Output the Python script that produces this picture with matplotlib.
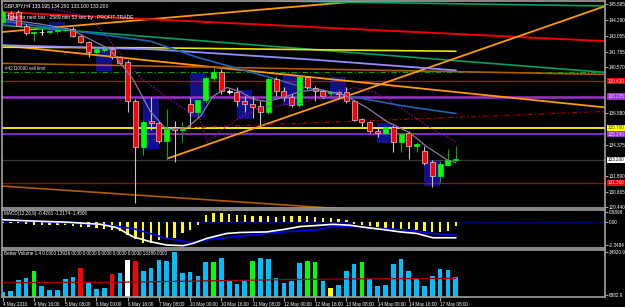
import matplotlib
matplotlib.use("Agg")
import matplotlib.pyplot as plt
import numpy as np
from matplotlib.patches import Rectangle

plt.rcParams["font.family"] = ["Liberation Sans", "DejaVu Sans"]

# GBPJPY H4, 4 May 2010 00:00 .. 17 May 2010 16:00
opens = [144.15, 144.90, 144.95, 143.83, 143.30, 143.35, 143.35, 143.43, 143.50, 143.59,
         143.03, 142.55, 141.75, 141.90, 141.99, 141.35, 140.95, 137.90, 134.24, 136.30,
         136.16, 134.72, 135.70, 135.60, 137.60, 136.96, 137.92, 139.67, 140.15, 138.60,
         138.55, 137.90, 137.60, 137.44, 136.96, 139.60, 138.63, 138.23, 137.52, 139.75,
         138.87, 138.63, 138.50, 138.55, 138.55, 137.84, 136.48, 136.24, 135.52, 135.36,
         135.84, 134.64, 135.36, 134.32, 133.92, 133.04, 131.92, 132.80, 133.195]
highs = [145.10, 145.00, 145.10, 143.99, 143.40, 143.60, 143.50, 143.60, 143.70, 143.75,
         143.10, 142.65, 142.10, 142.10, 142.10, 141.45, 141.10, 138.00, 136.40, 138.20,
         136.30, 137.20, 136.30, 136.20, 138.15, 137.20, 139.90, 140.55, 140.40, 138.80,
         138.95, 138.25, 138.25, 137.84, 139.75, 139.75, 139.00, 138.40, 139.90, 139.90,
         139.03, 138.80, 138.70, 138.65, 138.95, 137.95, 136.55, 136.30, 135.80, 135.90,
         135.95, 135.30, 135.50, 134.64, 134.32, 133.20, 133.10, 134.08, 134.291]
lows = [144.05, 144.30, 143.80, 143.10, 142.65, 143.10, 143.20, 143.30, 143.40, 142.95,
        142.45, 141.35, 141.60, 141.80, 141.25, 140.80, 137.00, 129.76, 133.60, 135.60,
        134.50, 133.30, 133.00, 134.60, 135.84, 136.50, 137.70, 139.50, 138.40, 138.40,
        137.50, 137.00, 136.50, 136.00, 136.80, 138.24, 137.90, 137.40, 137.40, 138.80,
        137.84, 138.15, 138.30, 138.20, 137.68, 136.30, 135.75, 135.36, 135.00, 135.20,
        133.84, 133.84, 133.28, 133.84, 132.80, 131.04, 131.44, 132.80, 133.100]
closes = [144.95, 144.40, 143.83, 143.27, 143.35, 143.35, 143.43, 143.50, 143.55, 143.03,
          142.55, 141.75, 141.99, 141.99, 141.35, 140.87, 137.84, 134.24, 136.24, 136.16,
          134.72, 135.76, 135.58, 135.65, 136.96, 137.92, 139.67, 140.15, 138.63, 138.60,
          137.84, 137.60, 137.36, 136.96, 139.60, 138.63, 138.23, 137.52, 139.75, 138.95,
          138.63, 138.31, 138.55, 138.40, 137.90, 136.40, 136.24, 135.52, 135.36, 135.84,
          134.64, 135.28, 134.32, 134.48, 132.96, 131.92, 132.88, 133.20, 133.200]

# Asian-session boxes (first bar of the day, high, low)
box_start = [0, 6, 12, 18, 24, 30, 36, 42, 48, 54]
box_top = [144.95, 144.15, 141.99, 138.23, 140.07, 138.71, 140.07, 139.75, 136.16, 133.20]
box_bottom = [143.83, 143.43, 140.23, 134.08, 136.64, 136.48, 137.52, 137.99, 134.56, 131.12]

# moving averages (bar index, price)
ma_yellow_x = [0, 20, 40, 58]
ma_yellow = [142.15, 142.10, 141.95, 141.83]
ma_lav_x = [0, 19, 40, 58]
ma_lav = [142.31, 141.99, 141.15, 140.31]
ma_blue_x = [0, 9.3, 18.9, 24.9, 34.2, 38.1, 41.9, 50.9, 58]
ma_blue = [144.23, 143.43, 142.63, 141.35, 139.75, 139.03, 138.55, 137.52, 136.88]
ma_dot_x = [3.5, 11.2, 17.6, 21.4, 25.3, 26.2, 28.1, 30.0, 32.9, 38.1, 43.2, 45.1, 47.7, 50.9, 54.7, 58]
ma_dot = [145.58, 144.55, 139.75, 138.00, 136.40, 134.56, 135.60, 136.40, 137.36, 137.68,
          138.63, 138.95, 138.55, 137.36, 135.76, 134.64]
ma_fast_x = [0, 4.8, 8.6, 13.7, 16.7, 18.9, 21.0, 23.6, 25.3, 26.9, 28.7, 30.4, 32.1, 33.8,
             35.9, 38.1, 40.6, 43.6, 46.6, 49.2, 52.1, 54.3, 56.9, 58]
ma_fast = [144.39, 143.99, 143.59, 141.99, 139.59, 137.04, 135.60, 135.76, 136.64, 138.23,
           138.95, 138.63, 138.00, 137.84, 138.15, 138.63, 138.79, 138.39, 137.36, 136.24,
           135.36, 134.24, 133.20, 132.96]

# trend lines: (x0, x1), (p0, p1)
trend_lines = {
    "orange_top": ([-0.3, 77.2], [143.35, 147.50]),
    "red_top": ([-0.3, 77.2], [144.95, 142.63]),
    "green_mid": ([-0.3, 77.2], [143.91, 140.15]),
    "green_top": ([34.0, 77.2], [145.83, 145.43]),
    "orange_mid": ([-0.3, 77.2], [142.31, 137.36]),
    "brown_mid": ([-0.3, 77.2], [140.87, 139.99]),
    "brown_low": ([-0.3, 77.2], [131.12, 127.90]),
    "orange_up": ([21.0, 77.2], [133.28, 145.43]),
    "red_dash": ([24.0, 77.2], [135.76, 137.04]),
}
line_style = {
    "orange_top": dict(color="#ff9900", lw=1.3),
    "red_top": dict(color="#ee0000", lw=1.4),
    "green_mid": dict(color="#00a060", lw=1.2),
    "green_top": dict(color="#00a060", lw=1.2),
    "orange_mid": dict(color="#ff9900", lw=1.3),
    "brown_mid": dict(color="#b35a00", lw=1.2),
    "brown_low": dict(color="#b35a00", lw=1.2),
    "orange_up": dict(color="#ff9900", lw=1.3),
    "red_dash": dict(color="#a00000", lw=0.9, ls=(0, (4, 2, 1, 2))),
}

# horizontal levels
levels = [140.21, 139.43, 138.23, 135.76, 135.24, 133.20, 131.36]
level_style = [dict(color="#00a000", lw=0.8, ls=(0, (5, 2, 1, 2))),
               dict(color="#dd0000", lw=0.9),
               dict(color="#9933cc", lw=1.8),
               dict(color="#ffff00", lw=1.3),
               dict(color="#9933cc", lw=1.2),
               dict(color="#383838", lw=0.9),
               dict(color="#b00000", lw=0.9)]
price_tags = [(139.43, "139.430", "#ee0000", "#ffd0d0"),
              (138.23, "138.235", "#9933cc", "#f0d0ff"),
              (135.76, "135.760", "#ffff00", "#505000"),
              (135.24, "135.240", "#9933cc", "#f0d0ff"),
              (133.20, "133.200", "#ffffff", "#000000"),
              (131.36, "131.360", "#ee0000", "#ffd0d0")]
price_ticks = [145.585, 144.290, 143.055, 141.755, 140.570, 136.880, 134.375, 131.890, 130.665, 129.440]

# MACD panel
macd_hist = [-0.05, -0.10, -0.10, -0.15, -0.27, -0.33, -0.27, -0.27, -0.33, -0.43,
             -0.53, -0.53, -0.60, -0.67, -0.77, -0.87, -1.27, -1.77, -2.10, -2.10,
             -1.87, -1.77, -1.60, -1.10, -0.77, -0.33, 0.73, 0.90, 0.90, 0.80,
             0.73, 0.73, 0.67, 0.67, 0.67, 0.57, 0.67, 0.67, 0.67, 0.67,
             0.57, 0.47, 0.40, 0.33, 0.23, -0.20, -0.33, -0.43, -0.53, -0.60,
             -0.67, -0.67, -0.67, -0.77, -0.87, -1.00, -1.00, -0.87, -0.43]
macd_x = [0, 3.9, 8.2, 12.5, 14.6, 16.7, 18.9, 21, 23.1, 24.4, 26.1, 28.7, 30.4, 33.8,
          35.9, 38.1, 40.6, 42.3, 44.5, 46.6, 48.7, 50.9, 53, 55.1, 58]
macd_main = [0.25, 0.11, 0.0, -0.22, -0.56, -1.5, -2.0, -2.34, -2.41, -2.17, -1.67, -1.16,
             -1.06, -1.0, -0.76, -0.45, -0.32, -0.22, -0.32, -0.56, -0.76, -1.0, -1.16,
             -1.6, -1.6]
sig_x = [0, 3.9, 8.2, 12.5, 16.7, 18.9, 21, 24, 27.4, 31.7, 35.9, 40.6, 42.3, 44.5, 46.6,
         50.9, 55.1, 58]
macd_signal = [0.18, 0.11, -0.09, -0.22, -0.66, -1.16, -1.67, -2.07, -1.67, -1.33, -1.0,
               -0.76, -0.42, -0.42, -0.56, -0.76, -1.16, -1.33]

# Better Volume
volume = [9070, 9730, 16740, 18270, 22650, 12800, 10170, 10170, 17400, 18930,
          24400, 14990, 10830, 11260, 20680, 21340, 29440, 28780, 22650, 24400,
          29880, 28780, 34920, 21340, 21990, 19150, 28560, 28350, 30750, 16080,
          13890, 16740, 29000, 30750, 30540, 17830, 14770, 16080, 27690, 29000,
          28130, 16080, 11260, 13450, 22210, 27030, 28130, 17610, 12800, 13230,
          27030, 30320, 22650, 18050, 12580, 19370, 23750, 23090, 18710]
vol_special = {4: "#00ff00", 27: "#00ff00", 32: "#00ff00", 39: "#00ff00", 40: "#00ff00",
               46: "#00ff00", 10: "#ff0000", 14: "#ff0000", 17: "#ff0000", 16: "#ffffff",
               42: "#ffff00"}
vol_ma_x = [0, 15, 25, 35, 45, 58]
vol_ma = [14900, 15200, 16000, 16800, 17400, 17700]

date_labels = ["4 May 2010", "4 May 16:00", "5 May 08:00", "6 May 00:00", "6 May 16:00",
               "7 May 08:00", "10 May 00:00", "10 May 16:00", "11 May 08:00", "12 May 00:00",
               "12 May 16:00", "13 May 08:00", "14 May 00:00", "14 May 16:00", "17 May 08:00"]

W, H = 625, 307
GRID = "#a0a0a0"
FS = 3.3
fig = plt.figure(figsize=(W / 100, H / 100), dpi=100, facecolor="black")


def panel(top, bottom):
    a = fig.add_axes([2 / W, 1 - bottom / H, 603 / W, (bottom - top) / H], facecolor="black")
    a.set_xlim(-0.09, 77.12)
    for sp in a.spines.values():
        sp.set_color(GRID)
        sp.set_linewidth(1.2)
    a.yaxis.tick_right()
    a.tick_params(axis="y", length=2, color=GRID, pad=1, labelsize=FS, labelcolor="white")
    a.tick_params(axis="x", length=0, labelbottom=False)
    return a


ax = panel(1, 208)
am = panel(209.5, 248)
av = panel(250, 297)

# ---- price panel ----
ax.set_ylim(129.365, 145.825)
for s, t, b in zip(box_start, box_top, box_bottom):
    ax.add_patch(Rectangle((s - 0.05, b), 2.0, t - b, fc="#10108c", ec="none", zorder=1))

for p, st in zip(levels, level_style):
    ax.axhline(p, zorder=2, **st)
for name, (xs, ps) in trend_lines.items():
    ax.plot(xs, ps, zorder=2, solid_capstyle="butt", **line_style[name])

ax.plot(ma_yellow_x, ma_yellow, color="#e8e800", lw=1.2, zorder=2.5)
ax.plot(ma_lav_x, ma_lav, color="#9090ff", lw=1.3, zorder=2.5)
ax.plot(ma_blue_x, ma_blue, color="#1e64b4", lw=1.2, zorder=2.5)

x = np.arange(len(opens))
o, h, l, c = map(np.array, (opens, highs, lows, closes))
up = c > o
flat = c == o
wick = np.where(flat, "#ffffff", np.where(up, "#00b000", "#c8c8c8"))
face = np.where(flat, "#ffffff", np.where(up, "#00ff00", "#ff0000"))
edge = np.where(flat, "#ffffff", np.where(up, "#00ff00", "#d0d0d0"))
ax.vlines(x, l, h, colors=wick, lw=0.8, zorder=3)
ax.bar(x, np.maximum(np.abs(c - o), 0.04), bottom=np.minimum(o, c), width=0.64,
       color=face, edgecolor=edge, lw=0.5, zorder=3.5)

ax.plot(ma_dot_x, ma_dot, color="#b000d0", lw=0.9, ls=(0, (1, 1.5)), zorder=4)
ax.plot(ma_fast_x, ma_fast, color="#8878a8", lw=0.9, zorder=4)

ax.set_yticks(price_ticks)
ax.set_yticklabels([f"{t:.3f}" for t in price_ticks])
ytr = ax.get_yaxis_transform()
for p, txt, fc, tc in price_tags:
    ax.text(1.004, p, txt, transform=ytr, fontsize=FS, color=tc, va="center", ha="left",
            clip_on=False, zorder=6,
            bbox=dict(boxstyle="square,pad=0.12", fc=fc, ec="none"))
ax.text(0.3, 140.21 + 0.08, "#42110090 sell limit", fontsize=FS, color="#e0e0e0",
        va="bottom", ha="left", zorder=6)

fig.text(4 / W, 1 - 6 / H, "GBPJPY,H4 133.195 134.291 133.100 133.200",
         fontsize=FS + 0.3, color="white", va="center", ha="left")
fig.text(7 / W, 1 - 17 / H, "Time for next bar : 2589 min 53 sec by : PROFIT-TRADE",
         fontsize=FS + 0.3, color="white", va="center", ha="left")

# ---- MACD panel ----
am.set_ylim(-2.646, 1.293)
am.axhline(0, color="#0000ff", lw=0.7, ls=(0, (1, 1.5)), zorder=1)
am.bar(x, macd_hist, width=0.3, color="#ffff00", zorder=2)
am.plot(sig_x, macd_signal, color="#0000ff", lw=1.2, zorder=3)
am.plot(macd_x, macd_main, color="#ffffff", lw=1.2, zorder=3)
am.set_yticks([0.9898, 0.0, -2.3484])
am.set_yticklabels(["0.9898", "0.00", "-2.3484"])
fig.text(4 / W, 1 - 213.5 / H, "MACD(12,26,9) -0.4261 -1.2174 -1.4506",
         fontsize=FS, color="white", va="center", ha="left")

# ---- Better Volume panel ----
av.set_ylim(5579, 36223)
vcol = [vol_special.get(i, "#00bfff") for i in range(len(volume))]
av.bar(x, np.array(volume) - 5579, bottom=5579, width=0.6, color=vcol, zorder=2)
av.plot(vol_ma_x, vol_ma, color="#a00000", lw=0.9, zorder=3)
av.set_yticks([34920.9, 6882.9])
av.set_yticklabels(["34920.9", "6882.9"])
fig.text(4 / W, 1 - 253.5 / H,
         "Better Volume 1.4 0.0000 13926.0000 0.0000 0.0000 0.0000 0.0000 13389.0000",
         fontsize=FS, color="white", va="center", ha="left")

av.set_xticks(np.arange(0, 59, 4))
av.set_xticklabels(date_labels)
av.tick_params(axis="x", length=3, color=GRID, pad=0.8, labelsize=FS,
               labelcolor="white", labelbottom=True, direction="out")
for lbl in av.get_xticklabels():
    lbl.set_ha("left")

fig.savefig("out.png", dpi=100, facecolor="black")
